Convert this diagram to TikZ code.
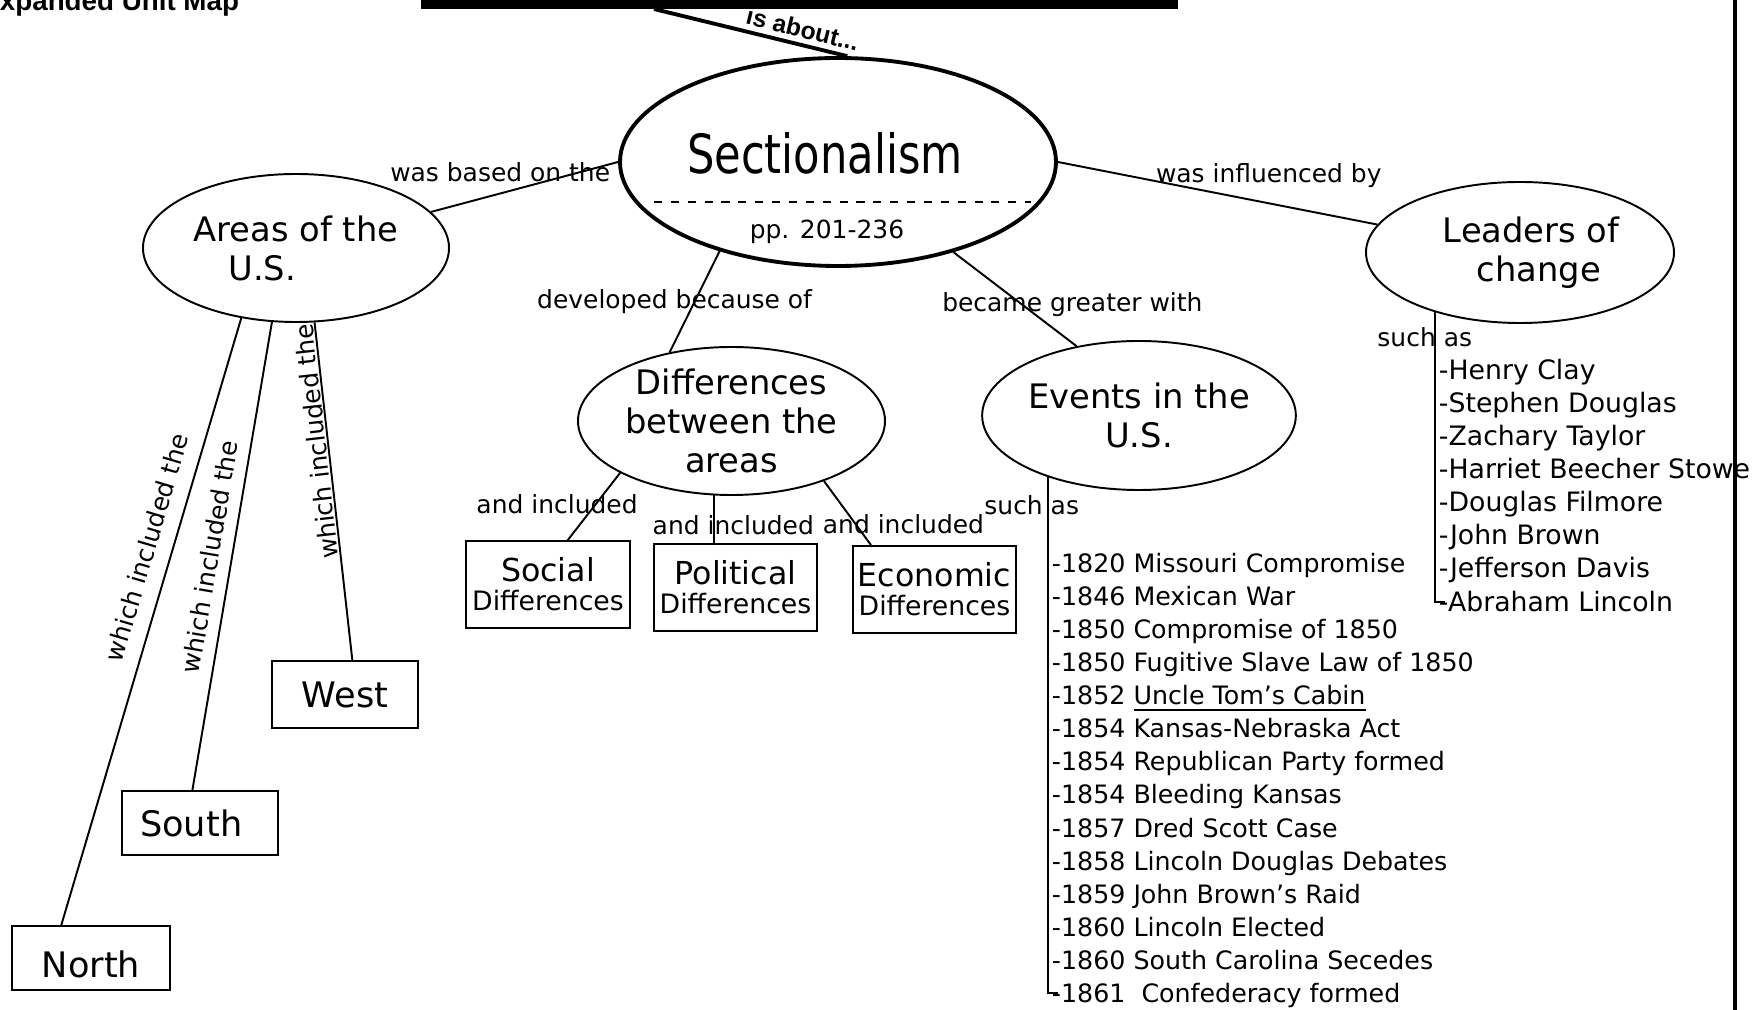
\documentclass[tikz,border=0pt]{standalone}
\usepackage{graphicx}
\usepackage{fontspec}
\setmainfont{DejaVu Sans}
\newfontfamily\headfont{Liberation Sans}
\usetikzlibrary{shapes.geometric}

\begin{document}
\begin{tikzpicture}[x=0.1mm,y=-0.1mm,line width=0.55pt,
    oval/.style={ellipse,draw,inner sep=0pt,align=center,font=\fontsize{9.6}{11.1}\selectfont},
    region/.style={rectangle,draw,inner sep=0pt,font=\fontsize{10}{12}\selectfont},
    kind/.style={rectangle,draw,inner sep=0pt,align=center,minimum height=8.7mm,font=\fontsize{7.6}{8.25}\selectfont},
    link/.style={inner sep=0pt,font=\fontsize{7.1}{8.5}\selectfont},
    roll/.style={inner sep=0pt,align=left,anchor=north west},
    boldlink/.style={inner sep=0pt,font=\headfont\bfseries\fontsize{7}{8}\selectfont}]

\useasboundingbox (0,0) rectangle (1758,1010);

\node[boldlink,anchor=base east,font=\headfont\bfseries\fontsize{7.9}{9}\selectfont] (heading) at (240,11) {Expanded Unit Map};
\node[fill=black,inner sep=0pt,minimum width=75.7mm,minimum height=4mm] (unitbar) at (799.5,-11) {};
\coordinate (aboutfoot) at (654,9);
\draw[line width=0.9pt] (1735,-5) -- (1735,1015);

\node[oval,line width=1.1pt,minimum width=43.6mm,minimum height=20.8mm] (sect) at (838,162) {};
\node[inner sep=0pt,anchor=base,font=\fontsize{12.3}{14}\selectfont] (secttitle) at (825,174) {\scalebox{1}[1.25]{Sectionalism}};
\draw[line width=0.4pt,dash pattern=on 2.3pt off 2.5pt] (654,202) -- (1031,202);
\node[link,anchor=base] (pages) at (827,239) {pp. 201-236};

\node[oval,minimum width=30.6mm,minimum height=14.8mm] (areas) at (296,248) {Areas of the\\U.S.\hspace*{19.3pt}};
\node[oval,minimum width=30.7mm,minimum height=14.8mm] (diff) at (731.5,421) {Differences\\between the\\areas};
\node[oval,minimum width=31.2mm,minimum height=14.9mm] (events) at (1139,415.5) {Events in the\\U.S.};
\node[oval,minimum width=30.8mm,minimum height=14.1mm] (leaders) at (1520,252.5) {\hspace*{6.3pt}Leaders of\\\hspace*{10.8pt}change};

\node[region,minimum width=15.8mm,minimum height=6.4mm,text height=3.95mm,text depth=0mm] (north) at (91,958) {North};
\node[region,minimum width=15.6mm,minimum height=6.4mm] (south) at (200,823) {South\hspace*{5pt}};
\node[region,minimum width=14.6mm,minimum height=6.7mm] (west) at (345,694.5) {West};

\node[kind,minimum width=16.4mm] (social) at (548,584.5) {{\fontsize{9}{8.25}\selectfont Social}\\Differences};
\node[kind,minimum width=16.3mm] (political) at (735.5,587.5) {{\fontsize{9}{8.25}\selectfont Political}\\Differences};
\node[kind,minimum width=16.3mm] (economic) at (934.5,589.5) {{\fontsize{9}{8.25}\selectfont Economic}\\Differences};

\node[roll,font=\fontsize{7.2}{9.42}\selectfont] (eventlist) at (1051,552) {-1820 Missouri Compromise\\
  -1846 Mexican War\\
  -1850 Compromise of 1850\\
  -1850 Fugitive Slave Law of 1850\\
  -1852 \underline{Uncle Tom's Cabin}\\
  -1854 Kansas-Nebraska Act\\
  -1854 Republican Party formed\\
  -1854 Bleeding Kansas\\
  -1857 Dred Scott Case\\
  -1858 Lincoln Douglas Debates\\
  -1859 John Brown's Raid\\
  -1860 Lincoln Elected\\
  -1860 South Carolina Secedes\\
  -1861\ \ Confederacy formed};
\node[roll,font=\fontsize{7.6}{9.42}\selectfont] (leaderlist) at (1438,358) {-Henry Clay\\
  -Stephen Douglas\\
  -Zachary Taylor\\
  -Harriet Beecher Stowe\\
  -Douglas Filmore\\
  -John Brown\\
  -Jefferson Davis\\
  -Abraham Lincoln};
\coordinate (evfoot) at (1058,993);
\coordinate (ldfoot) at (1445,602);

\path
  (aboutfoot) edge[line width=1.1pt] node[boldlink,pos=0.75,sloped,above=0.5mm] {is about...} (sect.85)
  (sect.west) edge node[link,pos=0.63,above=1.1mm] {was based on the} (areas)
  (sect.east) edge node[link,pos=0.66,above=1.5mm] {was influenced by} (leaders)
  (sect.217) edge node[link,pos=0.5,xshift=-2mm] {developed because of} (diff.132)
  (sect.322) edge node[link,pos=0.56,xshift=5mm] {became greater with} (events.132)
  (areas.232) edge node[link,pos=0.39,sloped,above=1.5mm] {which included the} (north.132)
  (areas.252) edge node[link,pos=0.51,sloped,above=1.15mm] {which included the} (south.103)
  (west.78) edge node[link,pos=0.65,sloped,allow upside down,above=0.1mm] {which included the} (areas.284)
  (diff.205) edge node[link,pos=0.46,xshift=-3.9mm] {and included} (social.66)
  (diff.327) edge node[link,pos=0.67,xshift=4.8mm] {and included} (economic.145);
\draw (diff.257.5) -- node[link,pos=0.63,xshift=1.9mm] {and included} (diff.257.5 |- political.north);
\draw (events.214.5) |- node[link,pos=0.027,xshift=-1.6mm] {such as} (evfoot);
\draw (leaders.215.6) |- node[link,pos=0.0425,xshift=-1mm] {such as} (ldfoot);
\end{tikzpicture}
\end{document}
